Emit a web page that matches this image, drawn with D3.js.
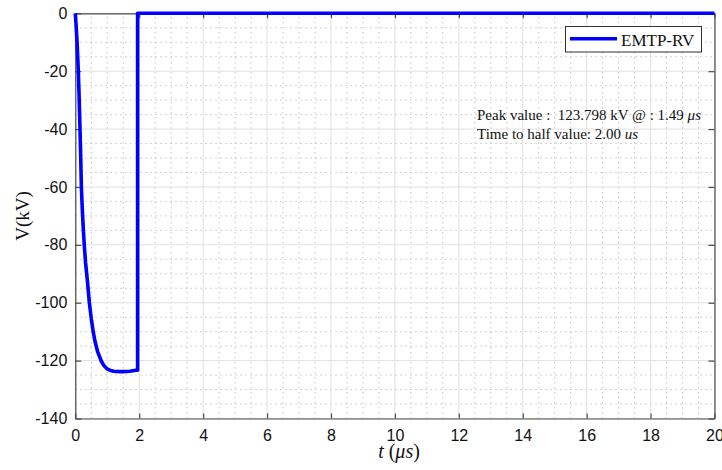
<!DOCTYPE html>
<html>
<head>
<meta charset="utf-8">
<script src="https://cdn.jsdelivr.net/npm/d3@7"></script>
<style>
  html, body { margin: 0; padding: 0; background: #fff; }
  svg { display: block; }
</style>
</head>
<body>
<svg id="chart" width="722" height="470"></svg>
<script>
// Surge voltage waveform (EMTP-RV), time in microseconds, voltage in kV
const timeUs = [0, 0.03, 0.06, 0.094, 0.12, 0.147, 0.17, 0.19, 0.22, 0.25, 0.28, 0.32, 0.375, 0.44, 0.5, 0.56, 0.62, 0.7, 0.82, 0.9, 1.0, 1.1, 1.2, 1.3, 1.4, 1.49, 1.6, 1.7, 1.8, 1.9, 1.95, 1.95, 20];
const voltageKv = [0, -5, -11, -20, -29, -40, -50, -60, -68, -74.5, -80, -86, -92, -100, -105.5, -110, -113.5, -117, -120.3, -121.8, -122.9, -123.4, -123.65, -123.77, -123.795, -123.798, -123.75, -123.65, -123.5, -123.35, -123.3, 0, 0];

const xTicks = [0, 2, 4, 6, 8, 10, 12, 14, 16, 18, 20];
const yTicks = [0, -20, -40, -60, -80, -100, -120, -140];
const seriesName = "EMTP-RV";
const noteLines = ["Peak value :  123.798 kV @ : 1.49 ", "Time to half value: 2.00 "];
const noteUnits = ["\u03bcs", "us"];

const svg = d3.select("#chart");
const margin = { left: 75.3, right: 7.5, top: 13.3, bottom: 51.5 };
const W = 722, H = 470;
const x = d3.scaleLinear().domain([0, 20]).range([margin.left, W - margin.right]);
const y = d3.scaleLinear().domain([-140, 0]).range([H - margin.bottom, margin.top]);

const [x0, x1] = x.range();
const [y0, y1] = y.range(); // y0 bottom, y1 top

// Minor dotted grid
const minorX = d3.range(0, 20.001, 0.5).filter(v => Math.abs(v % 2) > 1e-6);
const minorY = d3.range(-140, 0.001, 5).filter(v => Math.abs(v % 20) > 1e-6);
const grid = svg.append("g");
grid.selectAll(".mx").data(minorX).join("line")
  .attr("x1", d => x(d)).attr("x2", d => x(d)).attr("y1", y0).attr("y2", y1)
  .attr("stroke", "#c4c4c4").attr("stroke-width", 1).attr("stroke-dasharray", "1.5,3.5");
grid.selectAll(".my").data(minorY).join("line")
  .attr("y1", d => y(d)).attr("y2", d => y(d)).attr("x1", x0).attr("x2", x1)
  .attr("stroke", "#c4c4c4").attr("stroke-width", 1).attr("stroke-dasharray", "1.5,3.5");

// Major solid grid
grid.selectAll(".gx").data(xTicks).join("line")
  .attr("x1", d => x(d)).attr("x2", d => x(d)).attr("y1", y0).attr("y2", y1)
  .attr("stroke", "#e0e0e0").attr("stroke-width", 1);
grid.selectAll(".gy").data(yTicks).join("line")
  .attr("y1", d => y(d)).attr("y2", d => y(d)).attr("x1", x0).attr("x2", x1)
  .attr("stroke", "#e0e0e0").attr("stroke-width", 1);

// Axes (ticks pointing inward)
const axisColor = "#4a4a4a";
const tickFont = "'Liberation Sans', Arial, sans-serif";
const gx = svg.append("g").attr("transform", `translate(0,${y0})`)
  .call(d3.axisBottom(x).tickValues(xTicks).tickSizeInner(-5).tickSizeOuter(0).tickPadding(11));
const gy = svg.append("g").attr("transform", `translate(${x0},0)`)
  .call(d3.axisLeft(y).tickValues(yTicks).tickSizeInner(-6).tickSizeOuter(0).tickPadding(8)
    .tickFormat(d => d === 0 ? "0" : "-" + Math.abs(d)));
const gt = svg.append("g").attr("transform", `translate(0,${y1})`)
  .call(d3.axisTop(x).tickValues(xTicks).tickSizeInner(-5).tickSizeOuter(0).tickFormat(""));
const gr = svg.append("g").attr("transform", `translate(${x1},0)`)
  .call(d3.axisRight(y).tickValues(yTicks).tickSizeInner(-6).tickSizeOuter(0).tickFormat(""));
[gx, gy, gt, gr].forEach(g => {
  g.select(".domain").attr("stroke", axisColor).attr("stroke-width", 1.2);
  g.selectAll(".tick line").attr("stroke", axisColor).attr("stroke-width", 1.2);
  g.selectAll(".tick text").attr("fill", "#111").style("font-family", tickFont).style("font-size", "16px");
});

// Waveform
const line = d3.line().x((d, i) => x(timeUs[i])).y((d, i) => y(voltageKv[i])).curve(d3.curveLinear);
svg.append("path")
  .attr("d", line(voltageKv))
  .attr("fill", "none").attr("stroke", "#0000ff").attr("stroke-width", 3.6)
  .attr("stroke-linejoin", "round").attr("stroke-linecap", "butt");

// Legend
const serif = "'Liberation Serif', 'Times New Roman', serif";
const lg = svg.append("g");
lg.append("rect").attr("x", 565.5).attr("y", 26.5).attr("width", 136).attr("height", 25.5)
  .attr("fill", "#fff").attr("stroke", "#333").attr("stroke-width", 1);
lg.append("line").attr("x1", 570).attr("x2", 617).attr("y1", 38.8).attr("y2", 38.8)
  .attr("stroke", "#0000ff").attr("stroke-width", 3.6);
lg.append("text").attr("x", 621).attr("y", 45.5).text(seriesName)
  .style("font-family", serif).style("font-size", "17px").attr("fill", "#111");

// Annotation
noteLines.forEach((t, i) => {
  const tx = svg.append("text").attr("x", 477).attr("y", 120 + i * 18.5)
    .style("font-family", serif).style("font-size", "15px").style("white-space", "pre")
    .attr("fill", "#111");
  tx.append("tspan").text(t);
  tx.append("tspan").style("font-style", "italic").text(noteUnits[i]);
});

// Axis titles
svg.append("text")
  .attr("transform", `translate(29,${(y0 + y1) / 2}) rotate(-90)`)
  .attr("text-anchor", "middle")
  .style("font-family", serif).style("font-size", "19px").attr("fill", "#111")
  .text("V(kV)");
const xt = svg.append("text").attr("x", 399).attr("y", 458).attr("text-anchor", "middle")
  .style("font-family", serif).style("font-size", "20px").attr("fill", "#111");
xt.append("tspan").style("font-style", "italic").text("t");
xt.append("tspan").text(" (");
xt.append("tspan").style("font-style", "italic").text("\u03bcs");
xt.append("tspan").text(")");
</script>
</body>
</html>
